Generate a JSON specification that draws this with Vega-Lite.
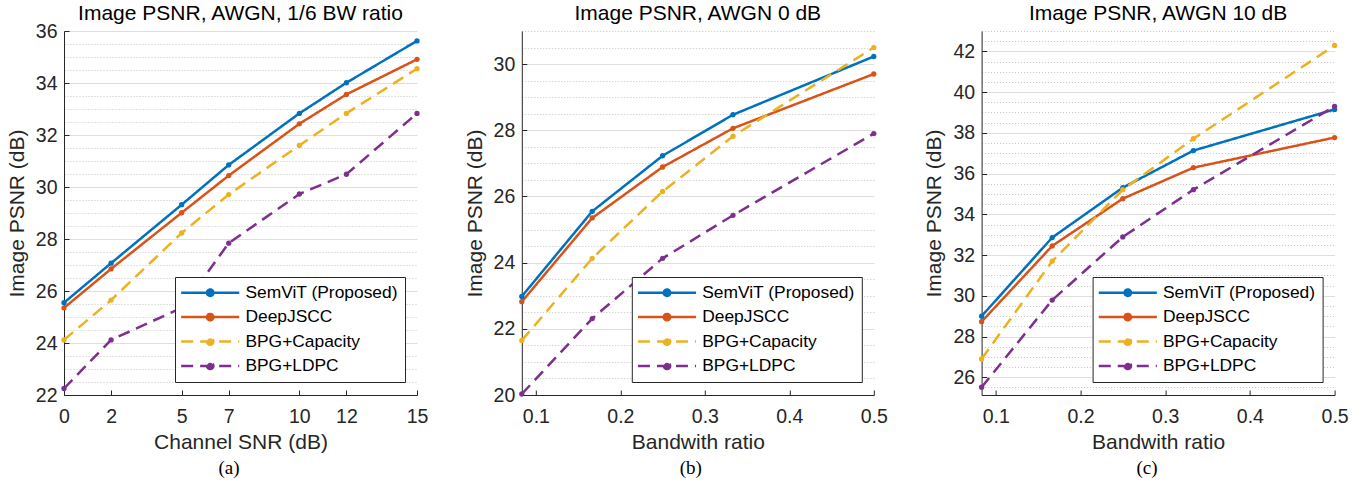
{
  "$schema": "https://vega.github.io/schema/vega-lite/v6.json",
  "background": "white",
  "padding": {"left": 6, "top": 3, "right": 5, "bottom": 3},
  "datasets": {
    "a": [
      {"series": "SemViT (Proposed)", "x": 0, "y": 25.55}, {"series": "SemViT (Proposed)", "x": 2, "y": 27.07}, {"series": "SemViT (Proposed)", "x": 5, "y": 29.32}, {"series": "SemViT (Proposed)", "x": 7, "y": 30.85}, {"series": "SemViT (Proposed)", "x": 10, "y": 32.83}, {"series": "SemViT (Proposed)", "x": 12, "y": 34.01}, {"series": "SemViT (Proposed)", "x": 15, "y": 35.62},
      {"series": "DeepJSCC", "x": 0, "y": 25.35}, {"series": "DeepJSCC", "x": 2, "y": 26.85}, {"series": "DeepJSCC", "x": 5, "y": 29.01}, {"series": "DeepJSCC", "x": 7, "y": 30.44}, {"series": "DeepJSCC", "x": 10, "y": 32.43}, {"series": "DeepJSCC", "x": 12, "y": 33.56}, {"series": "DeepJSCC", "x": 15, "y": 34.91},
      {"series": "BPG+Capacity", "x": 0, "y": 24.12}, {"series": "BPG+Capacity", "x": 2, "y": 25.65}, {"series": "BPG+Capacity", "x": 5, "y": 28.23}, {"series": "BPG+Capacity", "x": 7, "y": 29.71}, {"series": "BPG+Capacity", "x": 10, "y": 31.6}, {"series": "BPG+Capacity", "x": 12, "y": 32.83}, {"series": "BPG+Capacity", "x": 15, "y": 34.55},
      {"series": "BPG+LDPC", "x": 0, "y": 22.25}, {"series": "BPG+LDPC", "x": 2, "y": 24.12}, {"series": "BPG+LDPC", "x": 5, "y": 25.35}, {"series": "BPG+LDPC", "x": 7, "y": 27.84}, {"series": "BPG+LDPC", "x": 10, "y": 29.73}, {"series": "BPG+LDPC", "x": 12, "y": 30.49}, {"series": "BPG+LDPC", "x": 15, "y": 32.83}
    ],
    "b": [
      {"series": "SemViT (Proposed)", "x": 0.08333, "y": 22.98}, {"series": "SemViT (Proposed)", "x": 0.16667, "y": 25.55}, {"series": "SemViT (Proposed)", "x": 0.25, "y": 27.23}, {"series": "SemViT (Proposed)", "x": 0.33333, "y": 28.47}, {"series": "SemViT (Proposed)", "x": 0.5, "y": 30.23},
      {"series": "DeepJSCC", "x": 0.08333, "y": 22.82}, {"series": "DeepJSCC", "x": 0.16667, "y": 25.35}, {"series": "DeepJSCC", "x": 0.25, "y": 26.89}, {"series": "DeepJSCC", "x": 0.33333, "y": 28.06}, {"series": "DeepJSCC", "x": 0.5, "y": 29.7},
      {"series": "BPG+Capacity", "x": 0.08333, "y": 21.65}, {"series": "BPG+Capacity", "x": 0.16667, "y": 24.13}, {"series": "BPG+Capacity", "x": 0.25, "y": 26.15}, {"series": "BPG+Capacity", "x": 0.33333, "y": 27.82}, {"series": "BPG+Capacity", "x": 0.5, "y": 30.5},
      {"series": "BPG+LDPC", "x": 0.08333, "y": 20.03}, {"series": "BPG+LDPC", "x": 0.16667, "y": 22.31}, {"series": "BPG+LDPC", "x": 0.25, "y": 24.13}, {"series": "BPG+LDPC", "x": 0.33333, "y": 25.43}, {"series": "BPG+LDPC", "x": 0.5, "y": 27.9}
    ],
    "c": [
      {"series": "SemViT (Proposed)", "x": 0.08333, "y": 29.0}, {"series": "SemViT (Proposed)", "x": 0.16667, "y": 32.86}, {"series": "SemViT (Proposed)", "x": 0.25, "y": 35.31}, {"series": "SemViT (Proposed)", "x": 0.33333, "y": 37.13}, {"series": "SemViT (Proposed)", "x": 0.5, "y": 39.15},
      {"series": "DeepJSCC", "x": 0.08333, "y": 28.73}, {"series": "DeepJSCC", "x": 0.16667, "y": 32.45}, {"series": "DeepJSCC", "x": 0.25, "y": 34.77}, {"series": "DeepJSCC", "x": 0.33333, "y": 36.29}, {"series": "DeepJSCC", "x": 0.5, "y": 37.77},
      {"series": "BPG+Capacity", "x": 0.08333, "y": 26.9}, {"series": "BPG+Capacity", "x": 0.16667, "y": 31.7}, {"series": "BPG+Capacity", "x": 0.25, "y": 35.21}, {"series": "BPG+Capacity", "x": 0.33333, "y": 37.71}, {"series": "BPG+Capacity", "x": 0.5, "y": 42.29},
      {"series": "BPG+LDPC", "x": 0.08333, "y": 25.51}, {"series": "BPG+LDPC", "x": 0.16667, "y": 29.79}, {"series": "BPG+LDPC", "x": 0.25, "y": 32.89}, {"series": "BPG+LDPC", "x": 0.33333, "y": 35.21}, {"series": "BPG+LDPC", "x": 0.5, "y": 39.3}
    ]
  },
  "config": {
    "view": {"stroke": null},
    "font": "Liberation Sans",
    "axis": {
      "domainColor": "#262626", "domainWidth": 1, "tickColor": "#262626", "tickSize": -5, "tickWidth": 1,
      "labelColor": "#262626", "labelFontSize": 19.5, "labelFont": "Liberation Sans", "labelOverlap": false, "labelFlush": false,
      "titleColor": "#262626", "titleFontSize": 21, "titleFont": "Liberation Sans", "titleFontWeight": "normal"
    },
    "axisX": {"grid": false, "labelPadding": 17, "titlePadding": 6},
    "axisY": {"labelPadding": 12, "titlePadding": 8, "format": "d"},
    "title": {"fontSize": 21, "fontWeight": "normal", "font": "Liberation Sans", "color": "#000000", "offset": -3},
    "legend": {
      "title": null, "padding": 7, "strokeColor": "#262626", "fillColor": "white", "cornerRadius": 0,
      "labelFontSize": 17.4, "labelFont": "Liberation Sans", "labelColor": "#000000",
      "symbolType": "M-5,0H5M-0.55,0a0.55,0.55 0 1,0 1.1,0a0.55,0.55 0 1,0 -1.1,0",
      "symbolSize": 135, "symbolStrokeWidth": 2.5, "symbolOffset": 19.5, "labelOffset": 26.5, "rowPadding": 5.4
    }
  },
  "resolve": {"scale": {"color": "independent", "strokeDash": "independent"}, "legend": {"color": "independent", "strokeDash": "independent"}},
  "spacing": 35.8,
  "hconcat": [
    {
      "title": {"text": "(a)", "orient": "bottom", "font": "Liberation Serif", "fontSize": 19, "fontWeight": "normal", "color": "#000000", "anchor": "middle", "offset": 6, "dx": 12},
      "resolve": {"scale": {"color": "independent", "strokeDash": "independent"}, "legend": {"color": "independent", "strokeDash": "independent"}},
      "vconcat": [
        {
          "title": {"text": "Image PSNR, AWGN, 1/6 BW ratio", "frame": "group", "anchor": "middle"},
          "width": 353, "height": 364,
          "data": {"name": "a"},
          "mark": {"type": "line", "strokeWidth": 2.5, "point": {"filled": true, "size": 28}},
          "encoding": {
            "x": {"field": "x", "type": "quantitative", "scale": {"domain": [0, 15], "nice": false, "zero": false}, "axis": {"values": [0, 2, 5, 7, 10, 12, 15], "title": "Channel SNR (dB)"}},
            "y": {"field": "y", "type": "quantitative", "scale": {"domain": [22, 36], "nice": false, "zero": false},
              "axis": {"title": "Image PSNR (dB)", "values": [22, 22.5, 23, 23.5, 24, 24.5, 25, 25.5, 26, 26.5, 27, 27.5, 28, 28.5, 29, 29.5, 30, 30.5, 31, 31.5, 32, 32.5, 33, 33.5, 34, 34.5, 35, 35.5, 36],
                "labelExpr": "datum.value % 2 === 0 ? datum.label : ''",
                "tickOpacity": {"condition": {"test": "datum.value % 2 === 0", "value": 1}, "value": 0},
                "gridColor": {"condition": {"test": "datum.value % 2 === 0", "value": "#dedede"}, "value": "#c4c4c4"},
                "gridDash": {"condition": {"test": "datum.value % 2 === 0", "value": []}, "value": [1, 2]},
                "gridWidth": 1}},
            "color": {"field": "series", "type": "nominal", "scale": {"domain": ["SemViT (Proposed)", "DeepJSCC", "BPG+Capacity", "BPG+LDPC"], "range": ["#0072BD", "#D95319", "#EDB120", "#7E2F8E"]},
              "legend": {"orient": "none", "legendX": 111, "legendY": 246, "encode": {"symbols": {"update": {"fill": {"signal": "datum.value === 'SemViT (Proposed)' ? '#0072BD' : datum.value === 'DeepJSCC' ? '#D95319' : datum.value === 'BPG+Capacity' ? '#EDB120' : '#7E2F8E'"}}}}}},
            "strokeDash": {"field": "series", "type": "nominal", "scale": {"domain": ["SemViT (Proposed)", "DeepJSCC", "BPG+Capacity", "BPG+LDPC"], "range": [[1, 0], [1, 0], [12, 7], [12, 7]]},
              "legend": {"orient": "none", "legendX": 111, "legendY": 246}}
          }
        }
      ]
    },
    {
      "title": {"text": "(b)", "orient": "bottom", "font": "Liberation Serif", "fontSize": 19, "fontWeight": "normal", "color": "#000000", "anchor": "middle", "offset": 6, "dx": 15},
      "resolve": {"scale": {"color": "independent", "strokeDash": "independent"}, "legend": {"color": "independent", "strokeDash": "independent"}},
      "vconcat": [
        {
          "title": {"text": "Image PSNR, AWGN 0 dB", "frame": "group", "anchor": "middle"},
          "width": 352, "height": 364,
          "data": {"name": "b"},
          "mark": {"type": "line", "strokeWidth": 2.5, "point": {"filled": true, "size": 28}},
          "encoding": {
            "x": {"field": "x", "type": "quantitative", "scale": {"domain": [0.08333, 0.5], "nice": false, "zero": false}, "axis": {"values": [0.1, 0.2, 0.3, 0.4, 0.5], "format": ".1f", "title": "Bandwith ratio"}},
            "y": {"field": "y", "type": "quantitative", "scale": {"domain": [20, 31], "nice": false, "zero": false},
              "axis": {"title": "Image PSNR (dB)", "values": [20, 20.5, 21, 21.5, 22, 22.5, 23, 23.5, 24, 24.5, 25, 25.5, 26, 26.5, 27, 27.5, 28, 28.5, 29, 29.5, 30, 30.5, 31],
                "labelExpr": "datum.value % 2 === 0 ? datum.label : ''",
                "tickOpacity": {"condition": {"test": "datum.value % 2 === 0", "value": 1}, "value": 0},
                "gridColor": {"condition": {"test": "datum.value % 2 === 0", "value": "#dedede"}, "value": "#c4c4c4"},
                "gridDash": {"condition": {"test": "datum.value % 2 === 0", "value": []}, "value": [1, 2]},
                "gridWidth": 1}},
            "color": {"field": "series", "type": "nominal", "scale": {"domain": ["SemViT (Proposed)", "DeepJSCC", "BPG+Capacity", "BPG+LDPC"], "range": ["#0072BD", "#D95319", "#EDB120", "#7E2F8E"]},
              "legend": {"orient": "none", "legendX": 110, "legendY": 246, "encode": {"symbols": {"update": {"fill": {"signal": "datum.value === 'SemViT (Proposed)' ? '#0072BD' : datum.value === 'DeepJSCC' ? '#D95319' : datum.value === 'BPG+Capacity' ? '#EDB120' : '#7E2F8E'"}}}}}},
            "strokeDash": {"field": "series", "type": "nominal", "scale": {"domain": ["SemViT (Proposed)", "DeepJSCC", "BPG+Capacity", "BPG+LDPC"], "range": [[1, 0], [1, 0], [12, 7], [12, 7]]},
              "legend": {"orient": "none", "legendX": 110, "legendY": 246}}
          }
        }
      ]
    },
    {
      "title": {"text": "(c)", "orient": "bottom", "font": "Liberation Serif", "fontSize": 19, "fontWeight": "normal", "color": "#000000", "anchor": "middle", "offset": 6, "dx": 11},
      "resolve": {"scale": {"color": "independent", "strokeDash": "independent"}, "legend": {"color": "independent", "strokeDash": "independent"}},
      "vconcat": [
        {
          "title": {"text": "Image PSNR, AWGN 10 dB", "frame": "group", "anchor": "middle"},
          "width": 353, "height": 364,
          "data": {"name": "c"},
          "mark": {"type": "line", "strokeWidth": 2.5, "point": {"filled": true, "size": 28}},
          "encoding": {
            "x": {"field": "x", "type": "quantitative", "scale": {"domain": [0.08333, 0.5], "nice": false, "zero": false}, "axis": {"values": [0.1, 0.2, 0.3, 0.4, 0.5], "format": ".1f", "title": "Bandwith ratio"}},
            "y": {"field": "y", "type": "quantitative", "scale": {"domain": [25.13, 43], "nice": false, "zero": false},
              "axis": {"title": "Image PSNR (dB)", "values": [25.5, 26, 26.5, 27, 27.5, 28, 28.5, 29, 29.5, 30, 30.5, 31, 31.5, 32, 32.5, 33, 33.5, 34, 34.5, 35, 35.5, 36, 36.5, 37, 37.5, 38, 38.5, 39, 39.5, 40, 40.5, 41, 41.5, 42, 42.5, 43],
                "labelExpr": "datum.value % 2 === 0 ? datum.label : ''",
                "tickOpacity": {"condition": {"test": "datum.value % 2 === 0", "value": 1}, "value": 0},
                "gridColor": {"condition": {"test": "datum.value % 2 === 0", "value": "#dedede"}, "value": "#c4c4c4"},
                "gridDash": {"condition": {"test": "datum.value % 2 === 0", "value": []}, "value": [1, 2]},
                "gridWidth": 1}},
            "color": {"field": "series", "type": "nominal", "scale": {"domain": ["SemViT (Proposed)", "DeepJSCC", "BPG+Capacity", "BPG+LDPC"], "range": ["#0072BD", "#D95319", "#EDB120", "#7E2F8E"]},
              "legend": {"orient": "none", "legendX": 111, "legendY": 246, "encode": {"symbols": {"update": {"fill": {"signal": "datum.value === 'SemViT (Proposed)' ? '#0072BD' : datum.value === 'DeepJSCC' ? '#D95319' : datum.value === 'BPG+Capacity' ? '#EDB120' : '#7E2F8E'"}}}}}},
            "strokeDash": {"field": "series", "type": "nominal", "scale": {"domain": ["SemViT (Proposed)", "DeepJSCC", "BPG+Capacity", "BPG+LDPC"], "range": [[1, 0], [1, 0], [12, 7], [12, 7]]},
              "legend": {"orient": "none", "legendX": 111, "legendY": 246}}
          }
        }
      ]
    }
  ]
}
